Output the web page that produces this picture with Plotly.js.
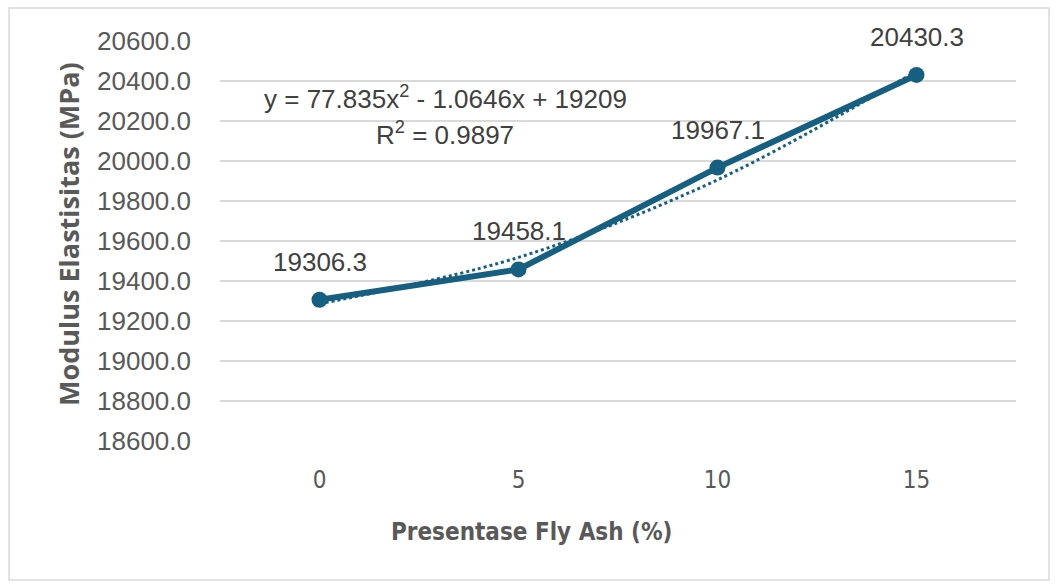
<!DOCTYPE html>
<html>
<head>
<meta charset="utf-8">
<script src="https://cdn.plot.ly/plotly-3.0.1.min.js"></script>
<style>
  html, body { margin: 0; padding: 0; background: #fff; }
  #chart { width: 1061px; height: 588px; }
</style>
</head>
<body>
<div id="chart"></div>
<script>
// values
var flyAsh = [0, 5, 10, 15];
var modulus = [19306.3, 19458.1, 19967.1, 20430.3];
var trendVals = [19286, 19518, 19906, 20450]; // polynomial trendline at each category
var yTicks = [18600, 18800, 19000, 19200, 19400, 19600, 19800, 20000, 20200, 20400, 20600];
var eqText = 'y = 77.835x<sup>2</sup> - 1.0646x + 19209';
var r2Text = 'R<sup>2</sup> = 0.9897';
var xTitle = 'Presentase Fly Ash (%)';
var yTitle = 'Modulus Elastisitas (MPa)';

var blue = '#175f80';
var sans = 'Liberation Sans, Arial, sans-serif';
var narrow = 'DejaVu Sans Condensed, Liberation Sans Narrow, Roboto, sans-serif';

var trend = {
  x: flyAsh,
  y: trendVals,
  mode: 'lines',
  type: 'scatter',
  line: { color: blue, width: 3, dash: 'dot', shape: 'spline' },
  hoverinfo: 'skip'
};

var main = {
  x: flyAsh,
  y: modulus,
  mode: 'lines+markers',
  type: 'scatter',
  line: { color: blue, width: 6 },
  marker: { color: blue, size: 16 }
};

var labels = modulus.map(function (v, i) {
  return {
    x: flyAsh[i], y: v, xref: 'x', yref: 'y',
    text: v.toFixed(1), showarrow: false, yshift: 38,
    font: { family: sans, size: 26, color: '#404040' }
  };
});

// Excel puts the axis titles a bit off the plot centre, so they are annotations
var annotations = labels.concat([
  { x: 0.283, y: 20320, xref: 'paper', yref: 'y', xanchor: 'center', text: eqText, showarrow: false,
    font: { family: sans, size: 26, color: '#404040' } },
  { x: 0.283, y: 20140, xref: 'paper', yref: 'y', xanchor: 'center', text: r2Text, showarrow: false,
    font: { family: sans, size: 26, color: '#404040' } },
  { x: 0.391, y: -0.2275, xref: 'paper', yref: 'paper', xanchor: 'center', yanchor: 'middle',
    text: xTitle, showarrow: false,
    font: { family: narrow, size: 24, color: '#595959', weight: 'bold' } },
  { x: -0.191, y: 0.5175, xref: 'paper', yref: 'paper', xanchor: 'center', yanchor: 'middle',
    text: yTitle, textangle: -90, showarrow: false,
    font: { family: 'Open Sans, sans-serif', size: 27, color: '#595959', weight: 'bold' } }
]);

var layout = {
  width: 1061,
  height: 588,
  margin: { l: 220, r: 45, t: 41, b: 147 },
  paper_bgcolor: '#fff',
  plot_bgcolor: '#fff',
  showlegend: false,
  xaxis: {
    range: [-2.5, 17.5],
    tickvals: flyAsh,
    ticktext: flyAsh.map(String),
    showgrid: false,
    zeroline: false,
    showline: false,
    ticks: '',
    ticklabelstandoff: 22,
    tickfont: { family: narrow, size: 24, color: '#595959' }
  },
  yaxis: {
    range: [18600, 20600],
    tickvals: yTicks,
    ticktext: yTicks.map(function (t) { return t.toFixed(1); }),
    showgrid: true,
    gridcolor: '#d9d9d9',
    gridwidth: 1.3,
    zeroline: false,
    showline: false,
    ticks: '',
    ticklabelstandoff: 28,
    tickfont: { family: sans, size: 26, color: '#595959' }
  },
  annotations: annotations,
  shapes: [{
    type: 'rect', xref: 'paper', yref: 'paper',
    x0: -0.265, x1: 1.0415, y0: -0.3475, y1: 1.0825,
    line: { color: '#d9d9d9', width: 1.5 }
  }]
};

Plotly.newPlot('chart', [trend, main], layout, { displayModeBar: false, staticPlot: true });
</script>
</body>
</html>
